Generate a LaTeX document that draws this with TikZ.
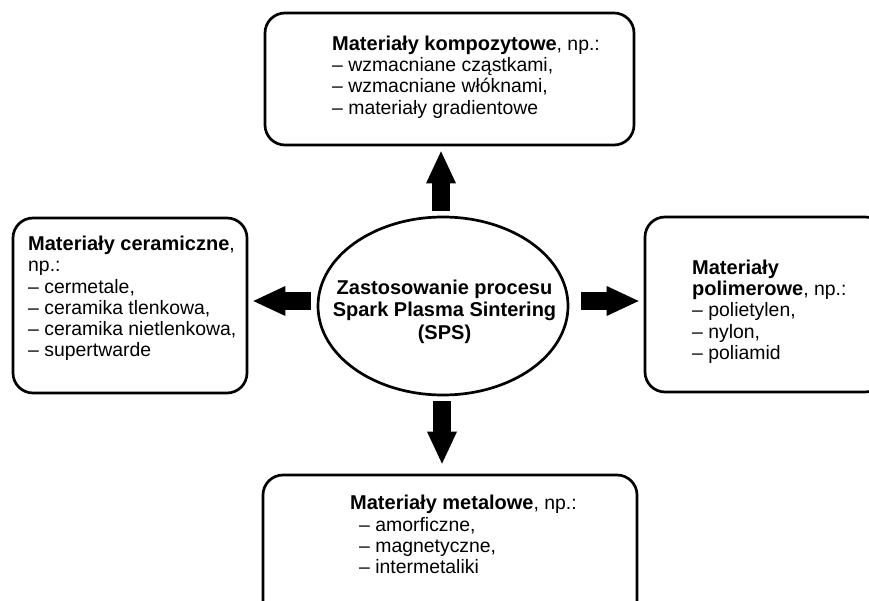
\documentclass[tikz,border=0pt]{standalone}
\usepackage{fontspec}
\setmainfont{Liberation Sans}
\usetikzlibrary{arrows.meta,calc,shapes.geometric}
\newcommand{\hdtxt}[1]{{\fontsize{20}{21.3}\selectfont\bfseries #1}}
\begin{document}
\begin{tikzpicture}[x=1pt,y=-1pt,
  box/.style={draw,line width=2.7pt,rounded corners=20pt,inner sep=0pt},
  txt/.style={align=left,inner sep=0pt,anchor=west,font=\fontsize{19.4}{21.3}\selectfont},
  bigarrow/.style={line width=18pt,-{Triangle[width=30pt,length=32pt,line width=0pt]}}
]
\useasboundingbox (0,0) rectangle (869,601);

% boxes
\node[box,minimum width=369pt,minimum height=132pt] (top) at (449.5,79) {};
\node[box,minimum width=234pt,minimum height=175pt] (left) at (130,305.5) {};
\node[box,minimum width=240pt,minimum height=175pt] (right) at (765,304.5) {};
\node[box,minimum width=374pt,minimum height=150pt] (bot) at (450,550) {};

% centre
\node[draw,ellipse,line width=2.7pt,minimum width=250pt,minimum height=178pt,inner sep=0pt] (ell) at (443,306) {};
\node[align=center,inner sep=0pt,font=\fontsize{20}{22.5}\selectfont\bfseries] (elltext) at (444.5,311.5)
  {Zastosowanie procesu\\Spark Plasma Sintering\\(SPS)};

% texts
\node[txt] (toptext) at (332,77) {\hdtxt{Materiały kompozytowe}, np.:\\– wzmacniane cząstkami,\\– wzmacniane włóknami,\\– materiały gradientowe};
\node[txt] (lefttext) at (28,298.5) {\hdtxt{Materiały ceramiczne},\\np.:\\– cermetale,\\– ceramika tlenkowa,\\– ceramika nietlenkowa,\\– supertwarde};
\node[txt] (righttext) at (692,311.5) {\hdtxt{Materiały}\\\hdtxt{polimerowe}, np.:\\– polietylen,\\– nylon,\\– poliamid};
\node[txt] (bottext) at (350,534.5) {\hdtxt{Materiały metalowe}, np.:\\\hspace*{9pt}– amorficzne,\\\hspace*{9pt}– magnetyczne,\\\hspace*{9pt}– intermetaliki};

% arrows
\draw[bigarrow] ($(ell.north)+(-2,-5)$) -- ($(ell.north |- top.south)+(-2,5)$);
\draw[bigarrow] ($(ell.south)+(-1,5)$) -- ($(ell.south |- bot.north)+(-1,-10)$);
\draw[bigarrow] ($(ell.west)+(-6,-5)$) -- ($(ell.west -| left.east)+(5,-5)$);
\draw[bigarrow] ($(ell.east)+(12,-5)$) -- ($(ell.east -| right.west)+(-5,-5)$);
\end{tikzpicture}
\end{document}
